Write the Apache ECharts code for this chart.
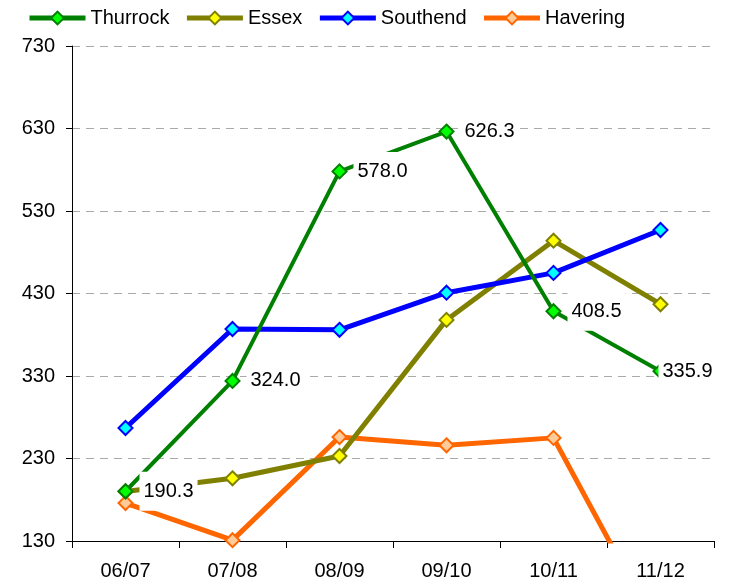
<!DOCTYPE html>
<html>
<head>
<meta charset="utf-8">
<script src="https://cdn.jsdelivr.net/npm/echarts@6/dist/echarts.min.js"></script>
<style>
  html, body { margin: 0; padding: 0; background: #fff; }
  #chart { width: 731px; height: 584px; }
</style>
</head>
<body>
<div id="chart"></div>
<script>
var years = ['06/07', '07/08', '08/09', '09/10', '10/11', '11/12'];
var thurrock = [190.3, 324.0, 578.0, 626.3, 408.5, 335.9];
var essex = [190, 206, 233, 398, 494, 417];
var southend = [267, 387, 386, 431, 455, 507];
var havering = [176, 131, 256, 246, 255, 15];

var FONT = "'Liberation Sans', Arial, sans-serif";

var chart = echarts.init(document.getElementById('chart'));

function mkSeries(name, data, lineColor, fillColor, width, withLabel) {
    var items = data.map(function (v, i) {
        // last label gets pushed inside the plot, over its own marker
        if (withLabel && i === data.length - 1) {
            return { value: v, label: { position: 'inside', offset: [27, 0] } };
        }
        return v;
    });
    return {
        name: name,
        type: 'line',
        data: items,
        symbol: 'diamond',
        symbolSize: 14,
        clip: true,
        lineStyle: { color: lineColor, width: width },
        itemStyle: { color: fillColor, borderColor: lineColor, borderWidth: 2 },
        label: {
            show: withLabel,
            position: 'right',
            distance: 6,
            color: '#000',
            fontSize: 20,
            fontFamily: FONT,
            backgroundColor: '#fff',
            padding: [10, 4, 9, 4],
            formatter: function (p) { return p.value.toFixed(1); }
        },
        emphasis: { disabled: true }
    };
}

var option = {
    animation: false,
    legend: {
        data: ['Thurrock', 'Essex', 'Southend', 'Havering'],
        left: 27,
        top: 8,
        padding: 0,
        itemWidth: 56,
        itemHeight: 16,
        itemGap: 15,
        lineStyle: { width: 5 },
        textStyle: { fontSize: 20, fontFamily: FONT, color: '#000' }
    },
    grid: { left: 72, right: 17, top: 46, bottom: 43 },
    xAxis: {
        type: 'category',
        data: years,
        boundaryGap: true,
        axisLine: { lineStyle: { color: '#000', width: 1 } },
        axisTick: { show: true, length: 7, lineStyle: { color: '#000' } },
        axisLabel: { fontSize: 20, fontFamily: FONT, color: '#000', margin: 20 }
    },
    yAxis: {
        type: 'value',
        min: 130,
        max: 730,
        interval: 100,
        axisLine: { show: true, lineStyle: { color: '#000', width: 1 } },
        axisTick: { show: true, length: 6, lineStyle: { color: '#000' } },
        axisLabel: { fontSize: 20, fontFamily: FONT, color: '#000', margin: 17 },
        splitLine: { lineStyle: { color: '#aaa', type: [8, 6], width: 1 } }
    },
    series: [
        mkSeries('Havering', havering, '#ff6600', '#ffcc99', 5, false),
        mkSeries('Essex', essex, '#808000', '#ffff00', 5, false),
        mkSeries('Southend', southend, '#0000ff', '#00ffff', 5, false),
        mkSeries('Thurrock', thurrock, '#008000', '#00ff00', 4, true)
    ]
};
chart.setOption(option);
</script>
</body>
</html>
